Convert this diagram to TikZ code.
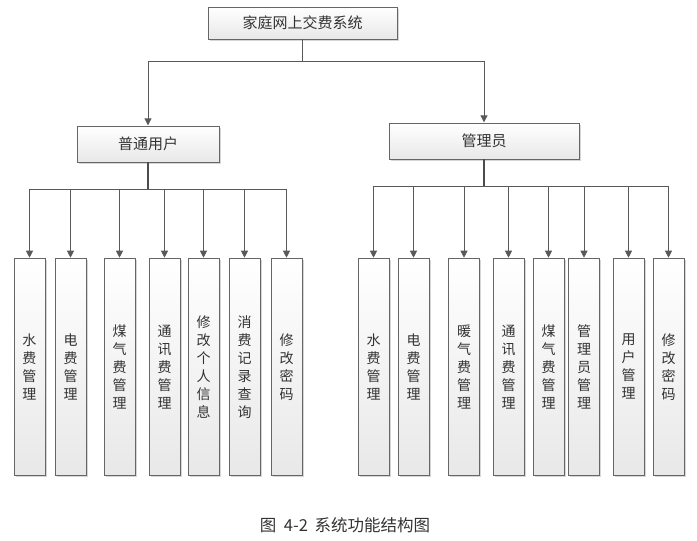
\documentclass[tikz,border=0pt]{standalone}
\usepackage{fontspec}
\newfontfamily\cjk{Noto Sans CJK SC}
\usetikzlibrary{arrows.meta, shadows, positioning}

\tikzset{
    box/.style={draw=gray!80!black, line width=0.7pt, top color=white, bottom color=gray!18,
        drop shadow={shadow xshift=1.5pt, shadow yshift=-1.5pt, fill=gray!40, opacity=0.8},
        text=black!80, font=\cjk\fontsize{15}{17}\selectfont, inner sep=0pt},
    leaf/.style={box, minimum width=31pt, minimum height=217pt, anchor=north, align=center,
        font=\cjk\fontsize{14}{18}\selectfont},
    link/.style={draw=black!65, line width=0.8pt},
    trunk/.style={draw=black!70, line width=1.8pt},
    arr/.style={link, -{Triangle[width=7pt,length=7pt]}, shorten >=0.3pt}
}

\begin{document}
\begin{tikzpicture}[x=1pt, y=-1pt]
        \useasboundingbox[fill=white] (0,0) rectangle (697,541);

        % top level
        \node[box, minimum width=189pt, minimum height=32pt] (sys) at (302.5,23) {家庭网上交费系统};
        \node[box, minimum width=142pt, minimum height=36pt] (user) at (148,144) {普通用户};
        \node[box, minimum width=190pt, minimum height=36pt] (admin) at (484,141) {管理员};

        \coordinate (top) at (302.5,61);
        \draw[link] (sys) -- (top);
        \draw[arr] (top) -| (user);
        \draw[arr] (top) -| (admin);

        % children of user
        \coordinate (ubus) at (148,189);
        \draw[trunk] (user) -- (ubus);
        \foreach \x/\n/\t in {29.5/u1/{水\\费\\管\\理}, 70.5/u2/{电\\费\\管\\理},
                119.5/u3/{煤\\气\\费\\管\\理}, 164.5/u4/{通\\讯\\费\\管\\理},
                203.5/u5/{修\\改\\个\\人\\信\\息}, 244.5/u6/{消\\费\\记\\录\\查\\询},
                286.5/u7/{修\\改\\密\\码}}{
            \node[leaf] (\n) at (\x,258) {\t};
            \draw[arr] (ubus) -| (\n);
        }

        % children of admin
        \coordinate (abus) at (484,186);
        \draw[trunk] (admin) -- (abus);
        \foreach \x/\n/\t in {373.5/a1/{水\\费\\管\\理}, 413.5/a2/{电\\费\\管\\理},
                464/a3/{暖\\气\\费\\管\\理}, 508.5/a4/{通\\讯\\费\\管\\理},
                548.5/a5/{煤\\气\\费\\管\\理}, 584/a6/{管\\理\\员\\管\\理},
                628.5/a7/{用\\户\\管\\理}, 668.5/a8/{修\\改\\密\\码}}{
            \node[leaf] (\n) at (\x,258) {\t};
            \draw[arr] (abus) -| (\n);
        }

        \node[font=\cjk\fontsize{16.5}{18}\selectfont, text=black!80] (cap) at (345,525)
            {图\hspace{0.45em}4-2\hspace{0.4em}系统功能结构图};
\end{tikzpicture}
\end{document}
